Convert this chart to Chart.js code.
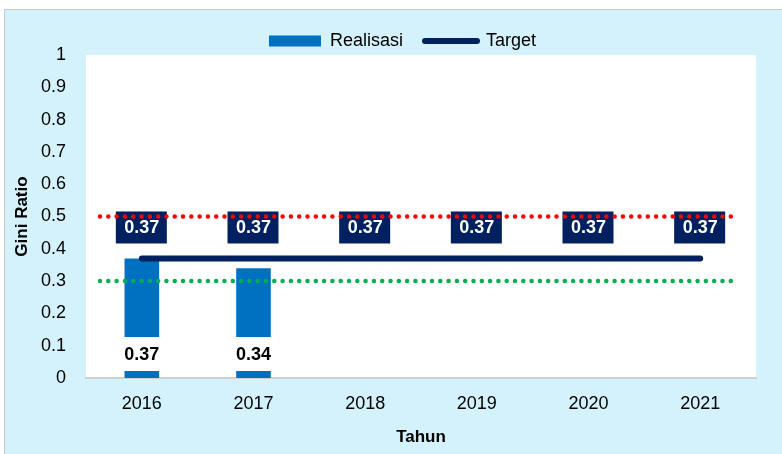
<!DOCTYPE html>
<html>
<head>
<meta charset="utf-8">
<script src="https://cdn.jsdelivr.net/npm/chart.js@4.4.1/dist/chart.umd.min.js"></script>
<style>
  body { margin: 0; background: #fff; }
  #box { position: absolute; left: 4px; top: 9px; width: 778px; height: 445px;
         background: #d3f2fc; border-left: 1px solid #c8c8c8; border-top: 1px solid #c8c8c8; }
  #wrap { position: absolute; left: 0; top: 0; width: 777px; height: 444px; }
</style>
</head>
<body>
<div id="box"><div id="wrap"><canvas id="myChart"></canvas></div></div>
<script>
const years = ['2016', '2017', '2018', '2019', '2020', '2021'];
const realisasi = [0.37, 0.34, null, null, null, null];
const target = [0.37, 0.37, 0.37, 0.37, 0.37, 0.37];
const batasAtas = 0.5;
const batasBawah = 0.3;

const FONT = '"Liberation Sans", Arial, sans-serif';
Chart.defaults.font.family = FONT;
Chart.defaults.color = '#000';

const extras = {
  id: 'extras',
  afterLayout(chart) {
    // legend sits a bit right of centre in the original
    chart.legend.left += 22;
    chart.legend.right += 22;
  },
  beforeDraw(chart) {
    const {ctx, chartArea: a} = chart;
    ctx.save();
    ctx.fillStyle = '#fff';
    ctx.fillRect(a.left, a.top, a.right - a.left, a.bottom - a.top);
    ctx.restore();
  },
  afterDatasetsDraw(chart) {
    const {ctx, chartArea: a} = chart;
    const y = chart.scales.y;
    ctx.save();
    ctx.textAlign = 'center';
    ctx.textBaseline = 'middle';
    ctx.font = 'bold 18px ' + FONT;

    // realisasi labels sit on a white box near the bar base
    chart.getDatasetMeta(0).data.forEach((bar, i) => {
      if (realisasi[i] == null) return;
      const cy = y.getPixelForValue(0) - 24;
      ctx.fillStyle = '#fff';
      ctx.fillRect(bar.x - 22, cy - 17, 44, 34);
      ctx.fillStyle = '#000';
      ctx.fillText(realisasi[i].toFixed(2), bar.x, cy + 1);
    });

    // target labels in navy boxes
    chart.getDatasetMeta(1).data.forEach((pt, i) => {
      const cy = pt.y - 31;
      ctx.fillStyle = '#002060';
      ctx.fillRect(pt.x - 26, cy - 16, 51, 32);
      ctx.fillStyle = '#fff';
      ctx.fillText(target[i].toFixed(2), pt.x, cy + 1);
    });

    // dotted reference lines
    [[batasAtas, '#ff0000'], [batasBawah, '#00b050']].forEach(([v, c]) => {
      const py = y.getPixelForValue(v);
      ctx.beginPath();
      ctx.strokeStyle = c;
      ctx.lineWidth = 4.5;
      ctx.lineCap = 'round';
      ctx.setLineDash([0, 8.3]);
      ctx.moveTo(a.left + 14, py);
      ctx.lineTo(a.right - 22, py);
      ctx.stroke();
    });
    ctx.restore();
  }
};

const CHART = document.getElementById('myChart');
let giniChart = new Chart(CHART, {
  type: 'bar',
  data: {
    labels: years,
    datasets: [{
      label: 'Realisasi',
      data: realisasi,
      backgroundColor: '#0070c0',
      borderWidth: 0,
      barPercentage: 0.31,
      categoryPercentage: 1,
      order: 1
    }, {
      type: 'line',
      label: 'Target',
      data: target,
      borderColor: '#002060',
      borderWidth: 6,
      borderCapStyle: 'round',
      pointRadius: 0,
      pointHoverRadius: 0,
      fill: false,
      order: 0
    }]
  },
  options: {
    responsive: true,
    maintainAspectRatio: false,
    animation: false,
    layout: { padding: { left: 0, right: 26, top: 0, bottom: 0 } },
    plugins: {
      tooltip: { enabled: false },
      legend: {
        position: 'top',
        maxHeight: 45,
        labels: {
          usePointStyle: true,
          pointStyleWidth: 52,
          boxHeight: 11,
          padding: 22,
          font: { size: 18 },
          color: '#000',
          sort: (a, b) => a.datasetIndex - b.datasetIndex,
          generateLabels(chart) {
            return Chart.defaults.plugins.legend.labels.generateLabels(chart).map(item => {
              if (item.datasetIndex === 0) {
                item.pointStyle = 'rect';
                item.fillStyle = '#0070c0';
                item.lineWidth = 0;
              } else {
                item.pointStyle = 'line';
                item.strokeStyle = '#002060';
                item.lineWidth = 6;
                item.lineCap = 'round';
              }
              return item;
            });
          }
        }
      }
    },
    scales: {
      x: {
        grid: { display: false, drawTicks: false },
        border: { display: true, color: '#d0d0d0', width: 2 },
        ticks: { padding: 15, font: { size: 18 } },
        title: { display: true, text: 'Tahun', font: { size: 17, weight: 'bold' }, padding: { top: 6, bottom: 6 } },
        afterFit(s) { s.height = 76; }
      },
      y: {
        min: 0,
        max: 1,
        grid: { display: false, drawTicks: false },
        border: { display: false },
        ticks: {
          stepSize: 0.1,
          padding: 20,
          font: { size: 18 },
          callback: v => String(+v.toFixed(1))
        },
        title: { display: true, text: 'Gini Ratio', font: { size: 17, weight: 'bold' }, padding: { top: 7, bottom: 0 } },
        afterFit(s) { s.width = 81; }
      }
    }
  },
  plugins: [extras]
});
</script>
</body>
</html>
